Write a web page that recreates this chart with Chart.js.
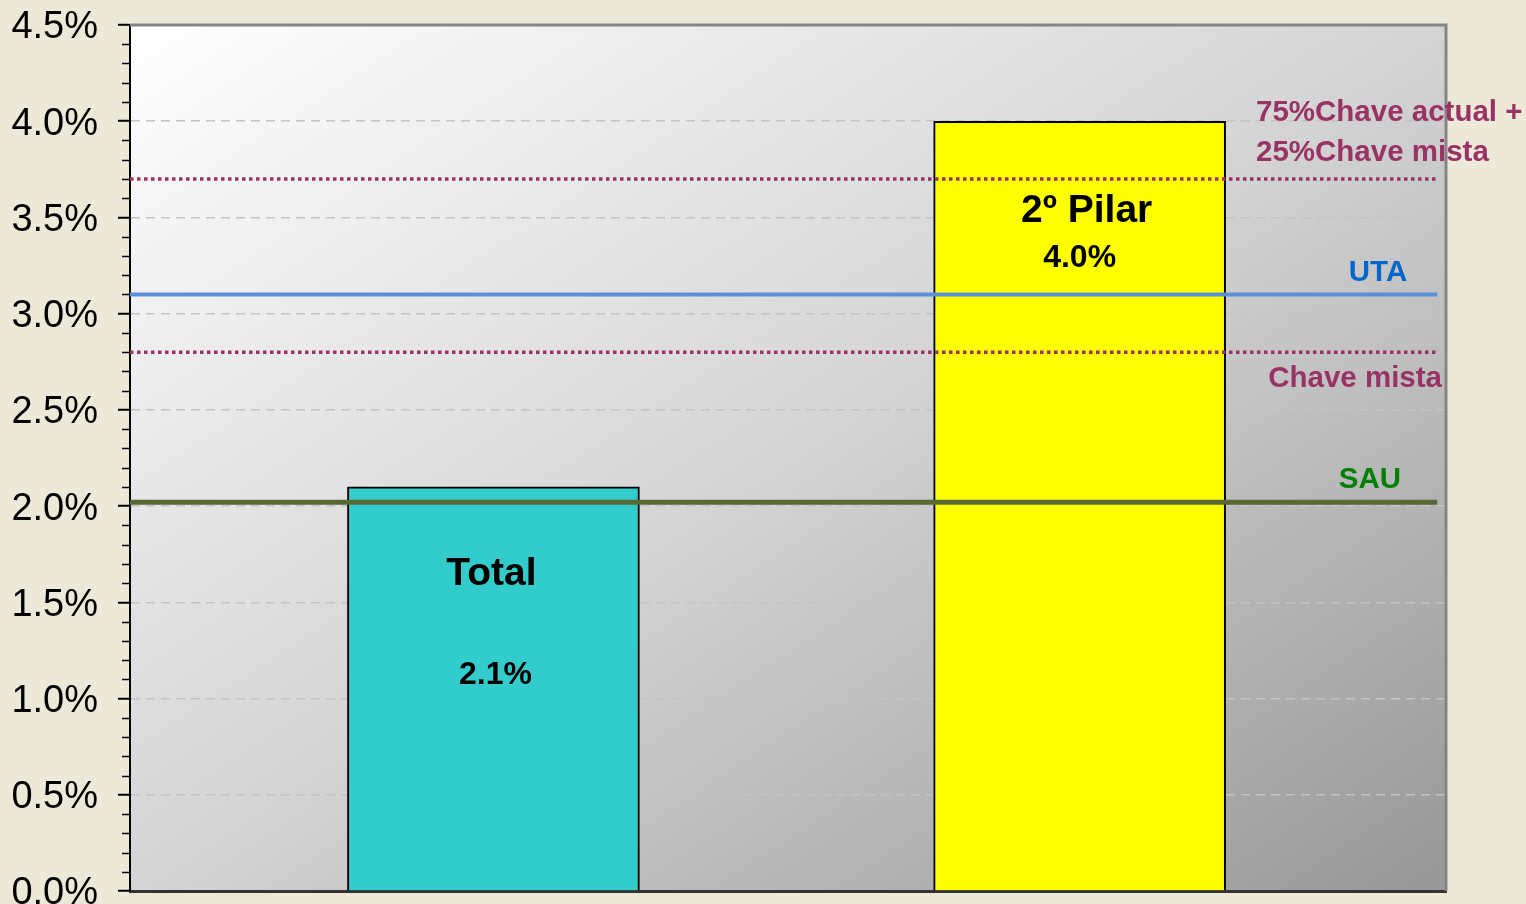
<!DOCTYPE html>
<html>
<head>
<meta charset="utf-8">
<script src="https://cdn.jsdelivr.net/npm/chart.js@4.4.0/dist/chart.umd.min.js"></script>
<style>
html, body { margin: 0; padding: 0; background: #ECE9D8; }
canvas { display: block; }
</style>
</head>
<body>
<canvas id="chart" width="1526" height="904"></canvas>
<script>
// bars
const categories = ["Total", "2º Pilar"];
const barValues = [2.1, 4.0];
const barColors = ["#33CCCC", "#FFFF00"];

// reference lines
const refNames = [["75%Chave actual +", "25%Chave mista"], ["UTA"], ["Chave mista"], ["SAU"]];
const refValues = [3.7, 3.1, 2.8, 2.02];

// y axis
const yTickLabels = ["0.0%", "0.5%", "1.0%", "1.5%", "2.0%", "2.5%", "3.0%", "3.5%", "4.0%", "4.5%"];

const FONT = "'Liberation Sans', Arial, sans-serif";
const X_MIN = -0.62, X_MAX = 1.625, LINE_END = 1.61;

const refStyles = [
  {color: "#993366", width: 3.5, dash: [3.5, 3.5], label: "#993366"},
  {color: "#5B8FD9", width: 4, dash: [], label: "#0066CC"},
  {color: "#993366", width: 3.5, dash: [3.5, 3.5], label: "#993366"},
  {color: "#586A33", width: 5, dash: [], label: "#008000"}
];

const lineSets = refValues.map((v, i) => ({
  type: "line",
  data: [{x: X_MIN, y: v}, {x: LINE_END, y: v}],
  borderColor: refStyles[i].color,
  borderWidth: refStyles[i].width,
  borderDash: refStyles[i].dash,
  borderCapStyle: "butt",
  pointRadius: 0,
  fill: false,
  order: 0
}));

const barSet = {
  type: "bar",
  data: barValues.map((v, i) => ({x: i, y: v})),
  backgroundColor: barColors,
  borderColor: "#000",
  borderWidth: 2,
  barThickness: 292,
  order: 1
};

const decor = {
  id: "decor",
  beforeDraw(chart) {
    const {ctx, chartArea: a} = chart;
    ctx.save();
    ctx.fillStyle = "#ECE9D8";
    ctx.fillRect(0, 0, chart.width, chart.height);
    const W = a.right - a.left, H = a.bottom - a.top;
    const c = 2 * W * H / (W * W + H * H);
    const g = ctx.createLinearGradient(a.left, a.top, a.left + c * H, a.top + c * W);
    g.addColorStop(0, "#ffffff");
    g.addColorStop(0.5, "#d4d4d4");
    g.addColorStop(1, "#979797");
    ctx.fillStyle = g;
    ctx.fillRect(a.left, a.top, W, H);
    ctx.restore();
  },
  beforeDatasetsDraw(chart) {
    const {ctx, chartArea: a} = chart;
    ctx.save();
    ctx.strokeStyle = "#858585";
    ctx.lineWidth = 3;
    ctx.beginPath();
    ctx.moveTo(a.left, a.top);
    ctx.lineTo(a.right, a.top);
    ctx.lineTo(a.right, a.bottom);
    ctx.stroke();
    // minor ticks
    const ys = chart.scales.y;
    ctx.strokeStyle = "#000";
    ctx.lineWidth = 1.5;
    for (let i = 1; i < 45; i++) {
      if (i % 5 === 0) continue;
      const py = Math.round(ys.getPixelForValue(i / 10)) + 0.5;
      ctx.beginPath();
      ctx.moveTo(a.left - 8, py);
      ctx.lineTo(a.left, py);
      ctx.stroke();
    }
    ctx.restore();
  },
  afterDatasetsDraw(chart) {
    const {ctx, chartArea: a} = chart;
    const ys = chart.scales.y;
    ctx.save();
    ctx.textBaseline = "middle";

    // labels inside bars
    const bars = chart.getDatasetMeta(refValues.length).data;
    const nameOff = [[-2, 87], [7, 90]];
    const valOff = [[2, 188], [0, 137]];
    ctx.fillStyle = "#000";
    ctx.textAlign = "center";
    bars.forEach((bar, i) => {
      ctx.font = "bold 39px " + FONT;
      ctx.fillText(categories[i], bar.x + nameOff[i][0], bar.y + nameOff[i][1]);
      ctx.font = "bold 32px " + FONT;
      ctx.fillText(barValues[i].toFixed(1) + "%", bar.x + valOff[i][0], bar.y + valOff[i][1]);
    });

    // labels of the reference lines
    const place = [
      {align: "left", dx: -190, dy: [-66, -26]},
      {align: "center", dx: -68, dy: [-22]},
      {align: "right", dx: -4, dy: [27]},
      {align: "center", dx: -76, dy: [-22]}
    ];
    ctx.font = "bold 29.5px " + FONT;
    refValues.forEach((v, i) => {
      const py = ys.getPixelForValue(v);
      ctx.fillStyle = refStyles[i].label;
      ctx.textAlign = place[i].align;
      refNames[i].forEach((t, j) => {
        ctx.fillText(t, a.right + place[i].dx, py + place[i].dy[j]);
      });
    });
    ctx.restore();
  }
};

new Chart(document.getElementById("chart"), {
  type: "bar",
  data: {datasets: [...lineSets, barSet]},
  options: {
    responsive: false,
    animation: false,
    layout: {padding: {left: 0, right: 80, top: 25, bottom: 13}},
    plugins: {legend: {display: false}, tooltip: {enabled: false}},
    scales: {
      x: {
        type: "linear",
        min: X_MIN,
        max: X_MAX,
        offset: false,
        ticks: {display: false},
        grid: {display: false, offset: false},
        border: {color: "#333333", width: 3},
        afterFit: s => { s.height = 0; }
      },
      y: {
        min: 0,
        max: 4.5,
        ticks: {
          stepSize: 0.5,
          autoSkip: false,
          padding: 20,
          labelOffset: 3,
          color: "#000",
          font: {family: FONT, size: 38},
          callback: v => yTickLabels[Math.round(v * 2)]
        },
        grid: {
          color: c => (c.tick && c.tick.value > 0 && c.tick.value < 4.5) ? "#c4c4c4" : "rgba(0,0,0,0)",
          lineWidth: 1.5,
          tickColor: "#000",
          tickLength: 12,
          tickWidth: 2
        },
        border: {color: "#000", width: 2, dash: [9, 6]},
        afterFit: s => { s.width = 130; s.paddingTop = 0; s.paddingBottom = 0; }
      }
    }
  },
  plugins: [decor]
});
</script>
</body>
</html>
